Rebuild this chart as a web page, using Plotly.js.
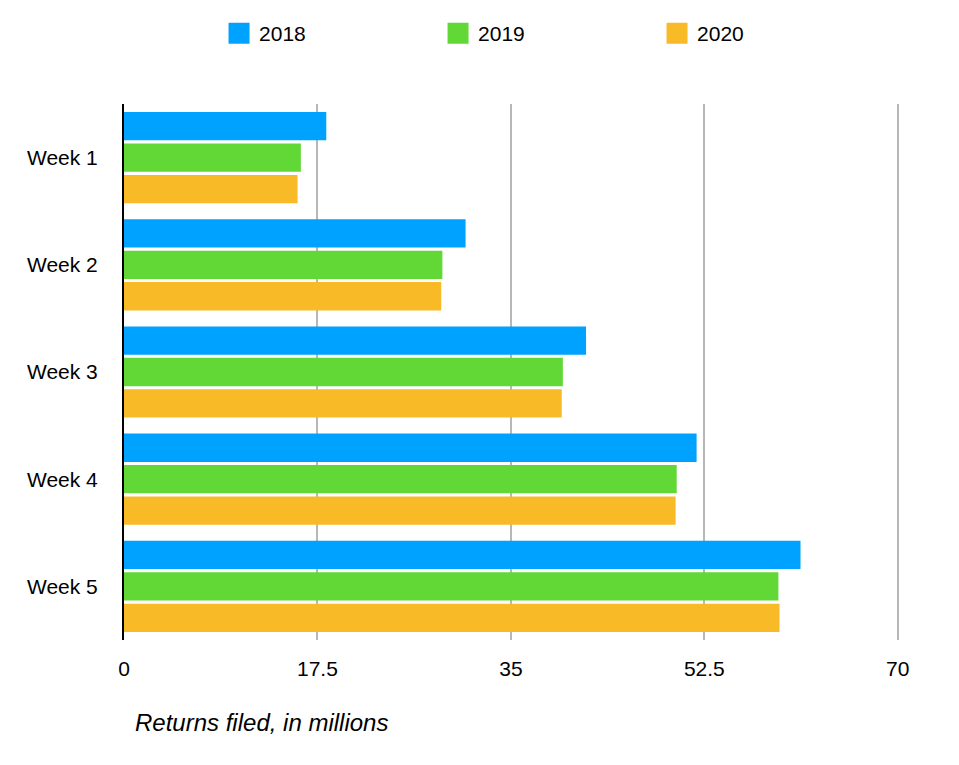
<!DOCTYPE html>
<html>
<head>
<meta charset="utf-8">
<script src="https://cdn.plot.ly/plotly-3.0.1.min.js"></script>
<style>
  html, body { margin: 0; padding: 0; background: #fff; }
  #chart { width: 959px; height: 765px; }
</style>
</head>
<body>
<div id="chart"></div>
<script>
// weeks on the category axis
let weeks = ["Week 1", "Week 2", "Week 3", "Week 4", "Week 5"];

// returns filed, in millions, per year
let years = ["2018", "2019", "2020"];
let returns2018 = [18.3, 30.9, 41.8, 51.8, 61.2];
let returns2019 = [16.0, 28.8, 39.7, 50.0, 59.2];
let returns2020 = [15.7, 28.7, 39.6, 49.9, 59.3];

// x axis ticks
let tickValues = [0, 17.5, 35, 52.5, 70];
let tickLabels = ["0", "17.5", "35", "52.5", "70"];

let colors = ["#00a2ff", "#61d836", "#f8ba26"];
let series = [returns2018, returns2019, returns2020];

let fontFamily = "Liberation Sans, Arial, sans-serif";

let data = [];

// one horizontal bar trace per year
series.forEach(function (values, i) {
    data.push({
        type: "bar",
        orientation: "h",
        name: years[i],
        x: values,
        y: weeks,
        marker: { color: colors[i] },
        showlegend: false,
        hoverinfo: "x+name"
    });
});

// empty traces just for the bigger legend squares
years.forEach(function (year, i) {
    data.push({
        type: "scatter",
        mode: "markers",
        name: year,
        x: [null],
        y: [null],
        marker: {
            symbol: "square",
            size: 16,
            color: colors[i],
            line: { color: colors[i], width: 5 }
        },
        hoverinfo: "skip"
    });
});

let layout = {
    width: 959,
    height: 765,
    margin: { l: 124, r: 59, t: 104, b: 125 },
    paper_bgcolor: "#fff",
    plot_bgcolor: "#fff",
    font: { family: fontFamily, size: 21, color: "#000" },
    barmode: "group",
    bargap: 0.12,
    bargroupgap: 0.1,
    showlegend: true,
    legend: {
        orientation: "h",
        xref: "container",
        yref: "container",
        x: 0.2284,
        xanchor: "left",
        y: 1 - 33.5 / 765,
        yanchor: "middle",
        entrywidth: 174,
        itemsizing: "trace",
        font: { family: fontFamily, size: 21, color: "#000" }
    },
    xaxis: {
        range: [0, 70.2], // a bit past 70 so the last grid line is kept
        tickmode: "array",
        tickvals: tickValues,
        ticktext: tickLabels,
        showgrid: true,
        gridcolor: "#b7b7b7",
        gridwidth: 2,
        zeroline: false,
        showline: false,
        ticks: "",
        ticklabelstandoff: 14,
        fixedrange: true
    },
    yaxis: {
        type: "category",
        autorange: "reversed",
        showgrid: false,
        zeroline: false,
        showline: true,
        linecolor: "#000",
        linewidth: 2,
        ticks: "",
        ticklabelstandoff: 20,
        fixedrange: true
    },
    annotations: [{
        text: "Returns filed, in millions",
        xref: "paper",
        yref: "paper",
        x: (133 - 124) / 776,
        y: (640 - 722) / 536,
        xanchor: "left",
        yanchor: "middle",
        showarrow: false,
        font: { family: fontFamily, size: 24, color: "#000", style: "italic" }
    }]
};

Plotly.newPlot("chart", data, layout, { displayModeBar: false, staticPlot: true });
</script>
</body>
</html>
